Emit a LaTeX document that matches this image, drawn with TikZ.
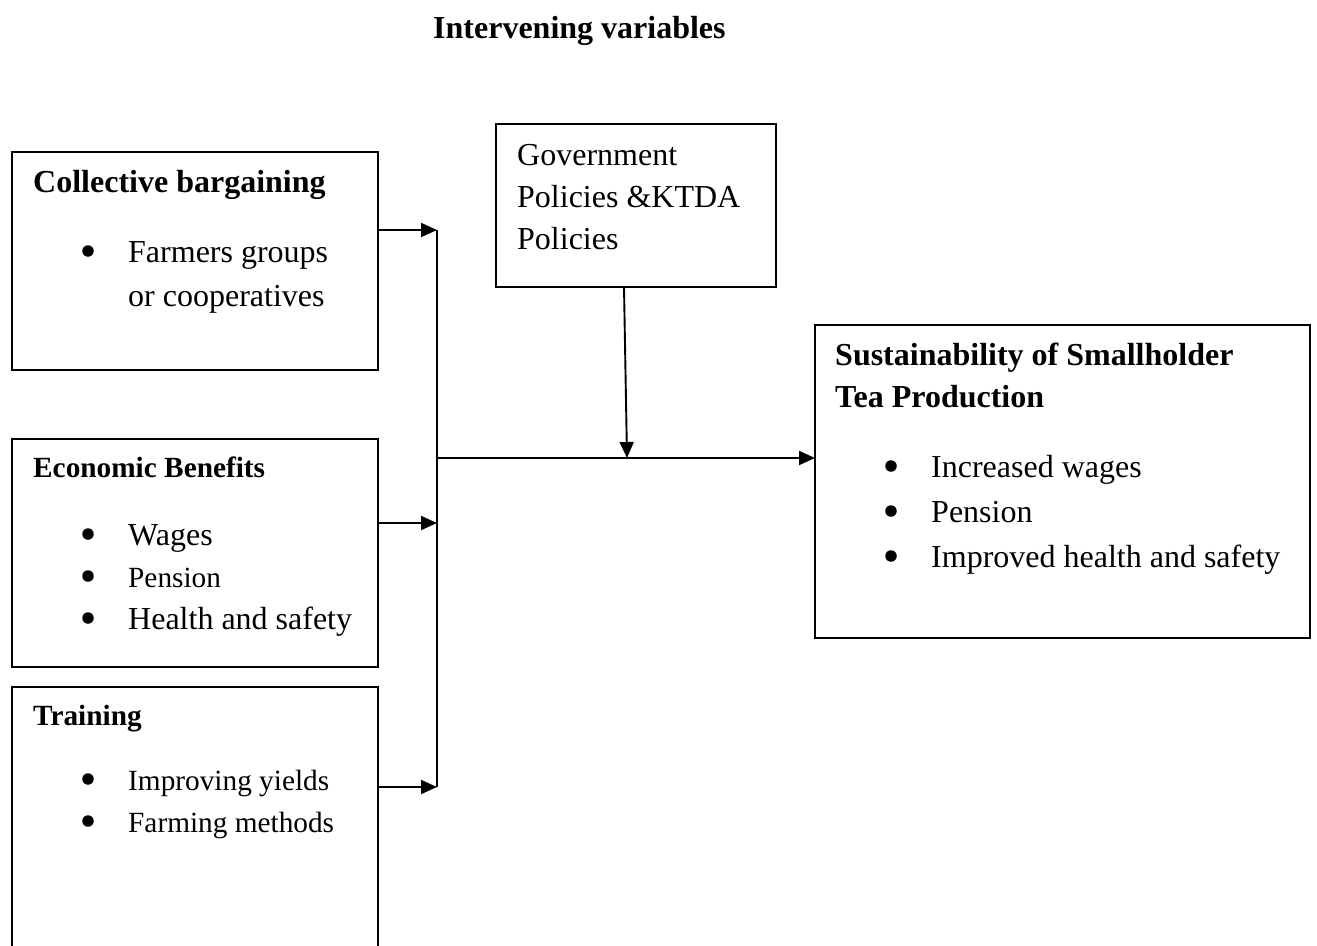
\documentclass[tikz,border=0pt]{standalone}
\usepackage{fontspec}
\setmainfont{Liberation Serif}
\usetikzlibrary{arrows.meta}
\begin{document}
\begin{tikzpicture}[x=1pt,y=-1pt,
  box/.style={draw,line width=1.9pt,anchor=north west,inner sep=0pt,outer sep=0pt},
  big/.style={anchor=base west,inner sep=0pt,font=\fontsize{32}{42}\selectfont},
  small/.style={anchor=base west,inner sep=0pt,font=\fontsize{29.3}{40}\selectfont},
  hbig/.style={big,font=\fontsize{32}{42}\selectfont\bfseries},
  hsmall/.style={small,font=\fontsize{29.3}{40}\selectfont\bfseries},
  bul/.style={circle,fill,inner sep=0pt,minimum size=11.5pt,yshift=11pt},
  conn/.style={line width=1.9pt},
  arr/.style={conn,-{Triangle[length=16pt,width=14pt]}}]
\useasboundingbox (0,0) rectangle (1317,945);
\clip (0,0) rectangle (1317,945);
\fill[white] (0,0) rectangle (1317,945);

% boxes
\node (cb) [box,minimum width=366pt,minimum height=218pt] at (12,152) {};
\node (eb) [box,minimum width=366pt,minimum height=228pt] at (12,439) {};
\node (tr) [box,minimum width=366pt,minimum height=320pt] at (12,687) {};
\node (gov) [box,minimum width=280pt,minimum height=163pt] at (496,124) {};
\node (sust) [box,minimum width=495pt,minimum height=313pt] at (815,325) {};

% title
\node (title) [hbig] at (433,38) {Intervening variables};

% collective bargaining
\node (cbh) [hbig] at (33,192) {Collective bargaining};
\node (cbb1) [bul] at (88,262) {};
\node (cbt1) [big] at (128,262) {Farmers groups};
\node (cbt2) [big] at (128,306) {or cooperatives};

% economic benefits
\node (ebh) [hsmall] at (33,477) {Economic Benefits};
\node (ebb1) [bul] at (88,545) {};
\node (ebt1) [big] at (128,545) {Wages};
\node (ebb2) [bul] at (88,587) {};
\node (ebt2) [small] at (128,587) {Pension};
\node (ebb3) [bul] at (88,629) {};
\node (ebt3) [big] at (128,629) {Health and safety};

% training
\node (trh) [hsmall] at (33,725) {Training};
\node (trb1) [bul] at (88,790) {};
\node (trt1) [small] at (128,790) {Improving yields};
\node (trb2) [bul] at (88,832) {};
\node (trt2) [small] at (128,832) {Farming methods};

% government
\node (gt1) [big] at (517,165) {Government};
\node (gt2) [big] at (517,207) {Policies \&KTDA};
\node (gt3) [big] at (517,249) {Policies};

% sustainability
\node (sh1) [hbig] at (835,365) {Sustainability of Smallholder};
\node (sh2) [hbig] at (835,407) {Tea Production};
\node (sb1) [bul] at (891,477) {};
\node (st1) [big] at (931,477) {Increased wages};
\node (sb2) [bul] at (891,522) {};
\node (st2) [big] at (931,522) {Pension};
\node (sb3) [bul] at (891,567) {};
\node (st3) [big] at (931,567) {Improved health and safety};

% connectors
\coordinate (j1) at (437,230);
\coordinate (j2) at (437,523);
\coordinate (j3) at (437,787);
\coordinate (jm) at (437,458);
\coordinate (gx) at (624,0);
\coordinate (gd) at (627,458);
\draw[conn] (j1) -- (j3);
\draw[arr] (cb.east |- j1) -- (j1);
\draw[arr] (eb.east |- j2) -- (j2);
\draw[arr] (tr.east |- j3) -- (j3);
\draw[arr] (jm) -- (sust.west |- jm);
\draw[arr] (gov.south -| gx) -- (gd);
\end{tikzpicture}
\end{document}
